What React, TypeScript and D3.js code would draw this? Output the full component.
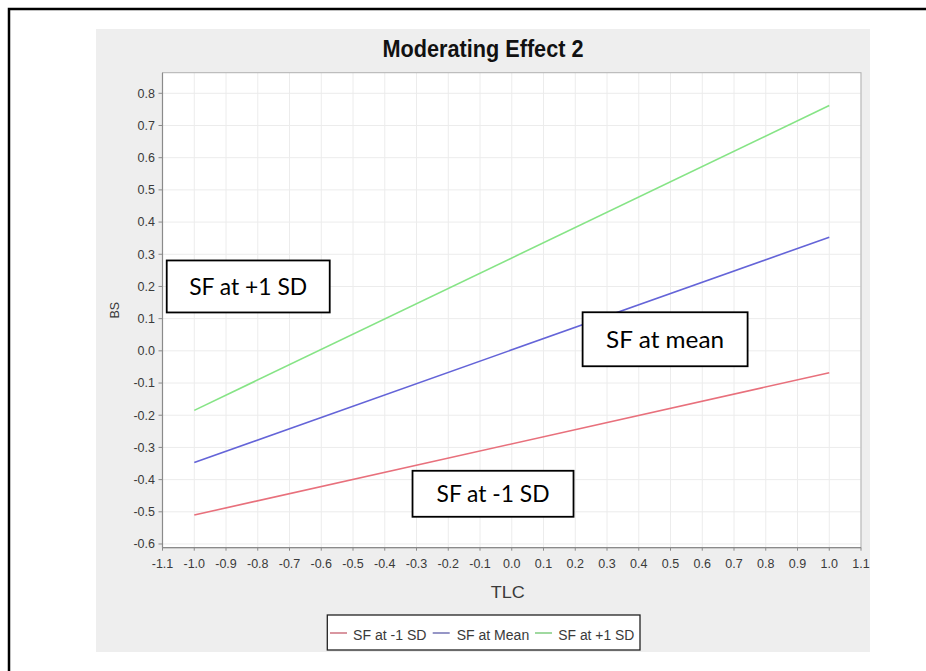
import React from "react";
import * as d3 from "d3";

const seriesNames = ["SF at -1 SD", "SF at Mean", "SF at +1 SD"];
const seriesColors = ["#e8707c", "#6464d8", "#86e486"];
const legendColors = ["#c05060", "#5050a0", "#60c060"];
const xValues = [-1.0, 1.0];
const lowValues = [-0.51, -0.068];
const meanValues = [-0.347, 0.353];
const highValues = [-0.185, 0.762];
const seriesValues = [lowValues, meanValues, highValues];
const xTicks = d3.range(-11, 12).map((v) => v / 10);
const yTicks = d3.range(-6, 9).map((v) => v / 10);
const title = "Moderating Effect 2";
const xLabel = "TLC";
const yLabel = "BS";
const annotations = [
  { text: "SF at +1 SD", x: -0.83, y: 0.2 },
  { text: "SF at mean", x: 0.483, y: 0.036 },
  { text: "SF at -1 SD", x: -0.059, y: -0.444 },
];

const W = 926;
const H = 671;
const plotL = 162.5;
const plotR = 861;
const plotT = 72.7;
const plotB = 547.7;

export default function App() {
  const x = d3.scaleLinear().domain([-1.1, 1.1]).range([plotL, plotR]);
  const y = d3.scaleLinear().domain([-0.6115, 0.864]).range([plotB, plotT]);
  const line = d3
    .line<number>()
    .x((_, i) => x(xValues[i]))
    .y((d) => y(d));

  const fmt = (v: number) => v.toFixed(1).replace("\u2212", "-");
  const tickFont = "'Liberation Sans', Arial, sans-serif";
  const boxFont = "Lato, 'Open Sans', sans-serif";

  const boxes = [
    { w: 163, h: 52, tl: 118 },
    { w: 165, h: 54, tl: 118 },
    { w: 161, h: 46, tl: 113 },
  ];

  const legendItems = [
    { lx: 330, tx: 353, tw: 73.5 },
    { lx: 432.7, tx: 456.7, tw: 72.5 },
    { lx: 535, tx: 558.3, tw: 76 },
  ];

  return (
    <svg
      width={W}
      height={H}
      style={{ position: "absolute", left: 0, top: 0, background: "#fff" }}
    >
      <rect x={9} y={9} width={1200} height={1200} fill="#fff" stroke="#000" strokeWidth={2.5} />
      <rect x={96} y={29} width={774} height={623} fill="#eeeeee" />
      <text
        x={483}
        y={56.5}
        textAnchor="middle"
        fontFamily={tickFont}
        fontWeight="bold"
        fontSize={23.5}
        textLength={201}
        lengthAdjust="spacingAndGlyphs"
        fill="#111"
      >
        {title}
      </text>
      <rect x={plotL} y={plotT} width={plotR - plotL} height={plotB - plotT} fill="#fff" />
      {xTicks.map((t) => (
        <line key={"gx" + t} x1={x(t)} x2={x(t)} y1={plotT} y2={plotB} stroke="#ececec" strokeWidth={1} />
      ))}
      {yTicks.map((t) => (
        <line key={"gy" + t} x1={plotL} x2={plotR} y1={y(t)} y2={y(t)} stroke="#ececec" strokeWidth={1} />
      ))}
      <rect
        x={plotL}
        y={plotT}
        width={plotR - plotL}
        height={plotB - plotT}
        fill="none"
        stroke="#b0b0b0"
        strokeWidth={1}
      />
      <line x1={plotL} x2={plotL} y1={plotT} y2={plotB} stroke="#8a8a8a" strokeWidth={1.2} />
      <line x1={plotL} x2={plotR} y1={plotB} y2={plotB} stroke="#8a8a8a" strokeWidth={1.2} />
      {xTicks.map((t) => (
        <g key={"xt" + t}>
          <line x1={x(t)} x2={x(t)} y1={plotB} y2={plotB + 3} stroke="#8a8a8a" />
          <text
            x={x(t)}
            y={568}
            textAnchor="middle"
            fontFamily={tickFont}
            fontSize={12.5}
            fill="#3a3a3a"
          >
            {fmt(t)}
          </text>
        </g>
      ))}
      {yTicks.map((t) => (
        <g key={"yt" + t}>
          <line x1={plotL - 4} x2={plotL} y1={y(t)} y2={y(t)} stroke="#8a8a8a" />
          <text
            x={155}
            y={y(t)}
            dy="0.35em"
            textAnchor="end"
            fontFamily={tickFont}
            fontSize={12.5}
            fill="#3a3a3a"
          >
            {fmt(t)}
          </text>
        </g>
      ))}
      <text
        x={(plotL + plotR) / 2 - 4}
        y={597.5}
        textAnchor="middle"
        fontFamily={tickFont}
        fontSize={16}
        textLength={34}
        lengthAdjust="spacingAndGlyphs"
        fill="#3a3a3a"
      >
        {xLabel}
      </text>
      <text
        transform={`translate(119,${(plotT + plotB) / 2}) rotate(-90)`}
        textAnchor="middle"
        fontFamily={tickFont}
        fontSize={12.5}
        fill="#3a3a3a"
      >
        {yLabel}
      </text>
      {seriesValues.map((vals, i) => (
        <path key={"s" + i} d={line(vals) || ""} fill="none" stroke={seriesColors[i]} strokeWidth={1.6} />
      ))}
      {annotations.map((a, i) => {
        const b = boxes[i];
        const cx = x(a.x);
        const cy = y(a.y);
        return (
          <g key={"a" + i}>
            <rect
              x={cx - b.w / 2}
              y={cy - b.h / 2}
              width={b.w}
              height={b.h}
              fill="#fff"
              stroke="#000"
              strokeWidth={1.8}
            />
            <text
              x={cx}
              y={cy}
              dy="0.36em"
              textAnchor="middle"
              fontFamily={boxFont}
              fontSize={24}
              textLength={b.tl}
              lengthAdjust="spacingAndGlyphs"
              fill="#000"
            >
              {a.text}
            </text>
          </g>
        );
      })}
      <rect x={327.3} y={615} width={312.7} height={35} fill="#fff" stroke="#222" strokeWidth={1.3} />
      {seriesNames.map((n, i) => {
        const it = legendItems[i];
        return (
          <g key={"l" + i}>
            <line x1={it.lx} x2={it.lx + 17} y1={633} y2={633} stroke={legendColors[i]} strokeWidth={1.2} />
            <text
              x={it.tx}
              y={639.5}
              fontFamily={tickFont}
              fontSize={15.5}
              textLength={it.tw}
              lengthAdjust="spacingAndGlyphs"
              fill="#3a3a3a"
            >
              {n}
            </text>
          </g>
        );
      })}
    </svg>
  );
}
